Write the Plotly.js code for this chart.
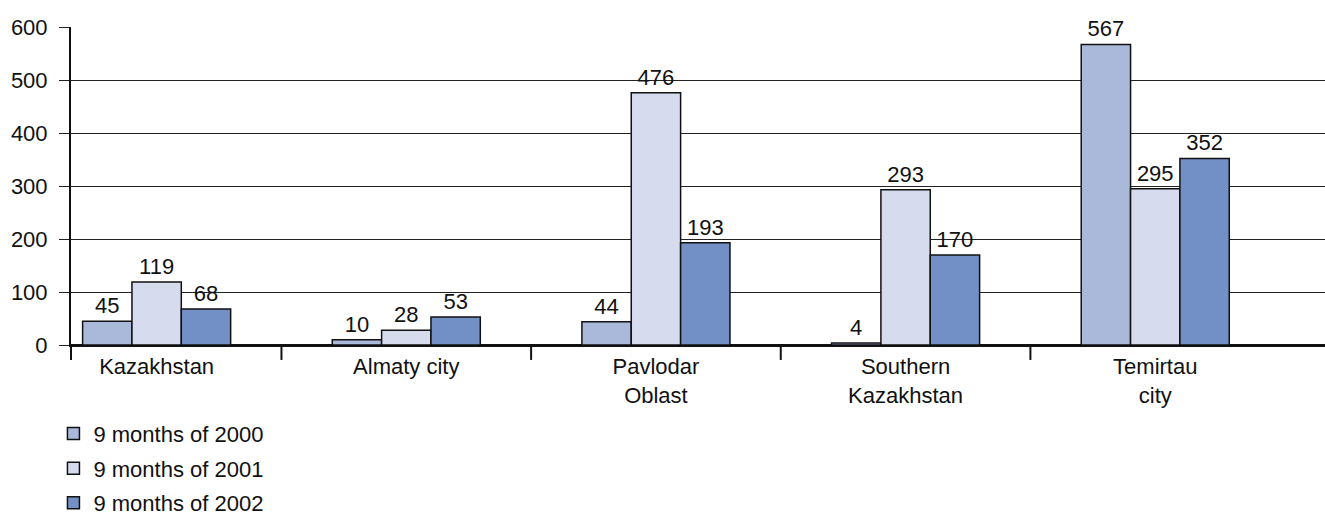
<!DOCTYPE html>
<html>
<head>
<meta charset="utf-8">
<script src="https://cdn.plot.ly/plotly-3.0.1.min.js"></script>
<style>html,body{margin:0;padding:0;background:#fff;}#chart{width:1325px;height:516px;}</style>
</head>
<body>
<div id="chart"></div>
<script>
const categories = ["Kazakhstan", "Almaty city", "Pavlodar<br>Oblast", "Southern<br>Kazakhstan", "Temirtau<br>city"];
const seriesNames = ["9 months of 2000", "9 months of 2001", "9 months of 2002"];
const values2000 = [45, 10, 44, 4, 567];
const values2001 = [119, 28, 476, 293, 295];
const values2002 = [68, 53, 193, 170, 352];
const yTicks = [0, 100, 200, 300, 400, 500, 600];

const colors = ["#aab9da", "#d6dcee", "#7390c6"];
const allValues = [values2000, values2001, values2002];
const font = {family: "Liberation Sans, Arial, sans-serif", size: 22, color: "#111"};

const traces = allValues.map((vals, i) => ({
  type: "bar",
  name: seriesNames[i],
  x: categories,
  y: vals,
  text: vals.map(String),
  textposition: "outside",
  textfont: font,
  cliponaxis: false,
  legendgroup: "g" + i,
  marker: {color: colors[i], line: {color: "#111", width: 1.5}}
}));

const shapes = [];
for (let i = 0; i < categories.length - 1; i++) {
  shapes.push({type: "line", xref: "x", yref: "paper", x0: i + 0.5, x1: i + 0.5, y0: 0, y1: -0.047, line: {color: "#111", width: 2}});
}
shapes.push({type: "line", xref: "paper", yref: "paper", x0: 0, x1: 0, y0: 0, y1: -0.047, line: {color: "#111", width: 2}});

const layout = {
  width: 1325, height: 516,
  margin: {l: 71, r: 0, t: 27, b: 171, autoexpand: false},
  paper_bgcolor: "#fff", plot_bgcolor: "#fff",
  font: font,
  barmode: "group",
  bargap: 0.407,
  bargroupgap: 0,
  showlegend: true,
  legend: {
    x: -0.014, xanchor: "left", y: -0.213, yanchor: "top",
    orientation: "v", traceorder: "grouped", tracegroupgap: 3,
    font: font, bgcolor: "rgba(0,0,0,0)"
  },
  xaxis: {
    type: "category",
    range: [-0.343, 4.68],
    showgrid: false,
    ticks: "",
    showline: true, linecolor: "#111", linewidth: 1.5,
    tickfont: font,
    ticklabelstandoff: 1,
    fixedrange: true
  },
  yaxis: {
    range: [0, 600],
    tickvals: yTicks,
    ticktext: yTicks.map(String),
    showgrid: true, gridcolor: "#222", gridwidth: 1,
    zeroline: true, zerolinecolor: "#111", zerolinewidth: 1.5,
    showline: true, linecolor: "#111", linewidth: 2,
    ticks: "outside", ticklen: 10, tickcolor: "#222", tickwidth: 1,
    ticklabelstandoff: 7,
    tickfont: font,
    fixedrange: true
  },
  shapes: shapes
};

Plotly.newPlot("chart", traces, layout, {displayModeBar: false, staticPlot: true});
</script>
</body>
</html>
